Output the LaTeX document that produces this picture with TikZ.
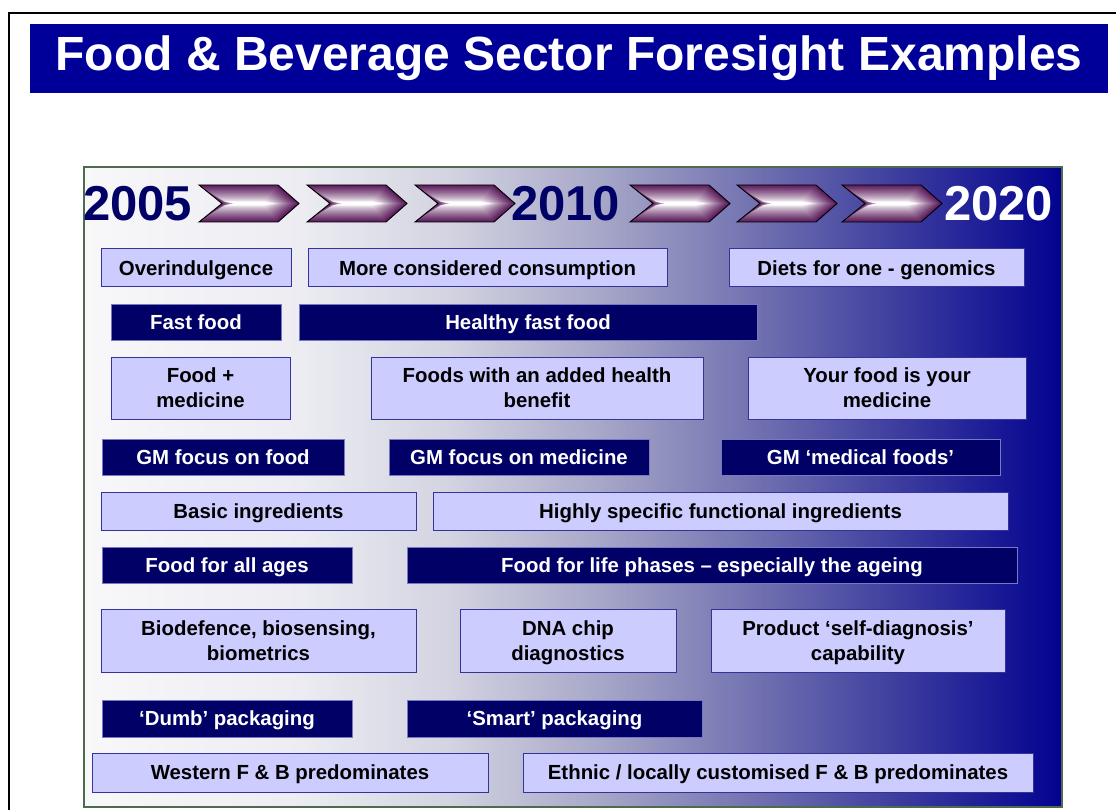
\documentclass[tikz,border=0pt]{standalone}
\usepackage{fontspec}
\setmainfont{Liberation Sans}
\definecolor{titleblue}{HTML}{000099}
\definecolor{yearnavy}{HTML}{000066}
\definecolor{dboxfill}{HTML}{000066}
\definecolor{dboxline}{HTML}{7777C4}
\definecolor{lboxfill}{HTML}{CCCCFF}
\definecolor{lboxline}{HTML}{333399}
\definecolor{panelborder}{HTML}{4D6B4D}
\definecolor{chevp}{HTML}{5A1A5A}
\definecolor{p0}{HTML}{F8F8FA}
\definecolor{p1}{HTML}{ECECF2}
\definecolor{p2}{HTML}{D4D4E2}
\definecolor{p3}{HTML}{A6A6C8}
\definecolor{p4}{HTML}{7070B0}
\definecolor{p5}{HTML}{3A3A9E}
\definecolor{p6}{HTML}{020290}
\pgfdeclarehorizontalshading{panelshade}{100bp}{color(0bp)=(p0); color(25bp)=(p0); color(36bp)=(p1); color(43.5bp)=(p2); color(51.5bp)=(p3); color(59.5bp)=(p4); color(67bp)=(p5); color(75bp)=(p6); color(100bp)=(p6)}
\newcommand\tlbox[7]{\node[#1, minimum width={#5-#3}, minimum height={#6-#4}] (#2) at ({(#3+#5)/2},{(#4+#6)/2}) {#7};}
\newcommand\chevron[1]{%
  \begin{scope}[shift={(#1+50,203.5)}]
    \foreach \i in {0,...,30}{%
      \pgfmathsetmacro\t{\i/30}%
      \pgfmathsetmacro\sx{1-\t*0.5}%
      \pgfmathsetmacro\sy{1-\t*0.9}%
      \pgfmathsetmacro\p{100*(1-\t)^0.75}%
      \fill[chevp!\p!white, xscale=\sx, yscale=\sy] (-50,-18.5) -- (29,-18.5) -- (50,0) -- (29,18.5) -- (-50,18.5) -- (-27,0) -- cycle;
    }
    \draw[black, line width=0.9pt] (-50,-18.5) -- (29,-18.5) -- (50,0) -- (29,18.5) -- (-50,18.5) -- (-27,0) -- cycle;
  \end{scope}}
\begin{document}
\begin{tikzpicture}[x=1pt,y=-1pt,
  lbox/.style={draw=lboxline, fill=lboxfill, line width=1pt, inner sep=0pt, align=center,
    text depth=0pt, font=\bfseries\fontsize{20.4}{25}\selectfont, text=black},
  dbox/.style={draw=dboxline, fill=dboxfill, line width=0.8pt, inner sep=0pt, align=center,
    text depth=0pt, font=\bfseries\fontsize{20.4}{25}\selectfont, text=white},
  year/.style={anchor=west, inner sep=0pt, font=\bfseries\fontsize{49}{55}\selectfont}]
\useasboundingbox (0,0) rectangle (1116,810);
\fill[white] (0,0) rectangle (1116,810);
% outer frame
\draw[black, line width=2pt] (9,830) -- (9,13) -- (1130,13);
% title
\node[fill=titleblue, minimum width=1078, minimum height=69, inner sep=0pt,
  text=white, font=\bfseries\fontsize{48}{54}\selectfont] (title) at (569,58.5)
  {Food \& Beverage Sector Foresight Examples};
% panel
\shade[shading=panelshade, draw=panelborder, line width=1.2pt] (84,167) rectangle (1062,807);
% timeline
\chevron{199}
\chevron{307}
\chevron{415}
\chevron{630}
\chevron{737}
\chevron{842}
\node[year, text=yearnavy] (y2005) at (83,204) {2005};
\node[year, text=yearnavy] (y2010) at (511,204) {2010};
\node[year, text=white] (y2020) at (944,204) {2020};
% row 1
\tlbox{lbox}{ov}{101}{249}{291}{287}{Overindulgence}
\tlbox{lbox}{mcc}{308}{249}{667}{287}{More considered consumption}
\tlbox{lbox}{diet}{729}{249}{1024}{287}{Diets for one - genomics}
% row 2
\tlbox{dbox}{ff}{111}{304}{281}{340}{Fast food}
\tlbox{dbox}{hff}{299}{304}{757}{340}{Healthy fast food}
% row 3
\tlbox{lbox}{fm}{111}{357}{290}{419}{Food +\\medicine}
\tlbox{lbox}{fah}{371}{357}{703}{419}{Foods with an added health\\benefit}
\tlbox{lbox}{yfm}{748}{357}{1026}{419}{Your food is your\\medicine}
% row 4
\tlbox{dbox}{gmf}{102}{439}{344}{475}{GM focus on food}
\tlbox{dbox}{gmm}{389}{439}{649}{475}{GM focus on medicine}
\tlbox{dbox}{gmmf}{721}{439}{1000}{475}{GM ‘medical foods’}
% row 5
\tlbox{lbox}{basic}{101}{492}{416}{530}{Basic ingredients}
\tlbox{lbox}{hsfi}{433}{492}{1008}{530}{Highly specific functional ingredients}
% row 6
\tlbox{dbox}{faa}{102}{547}{352}{583}{Food for all ages}
\tlbox{dbox}{flp}{407}{547}{1017}{583}{Food for life phases – especially the ageing}
% row 7
\tlbox{lbox}{bio}{101}{609}{416}{672}{Biodefence, biosensing,\\biometrics}
\tlbox{lbox}{dna}{460}{609}{676}{672}{DNA chip\\diagnostics}
\tlbox{lbox}{psd}{711}{609}{1005}{672}{Product ‘self-diagnosis’\\capability}
% row 8
\tlbox{dbox}{dumb}{102}{700}{352}{737}{‘Dumb’ packaging}
\tlbox{dbox}{smart}{407}{700}{702}{737}{‘Smart’ packaging}
% row 9
\tlbox{lbox}{west}{92}{753}{488}{792}{Western F \& B predominates}
\tlbox{lbox}{ethnic}{523}{753}{1033}{792}{Ethnic / locally customised F \& B predominates}
\end{tikzpicture}
\end{document}
